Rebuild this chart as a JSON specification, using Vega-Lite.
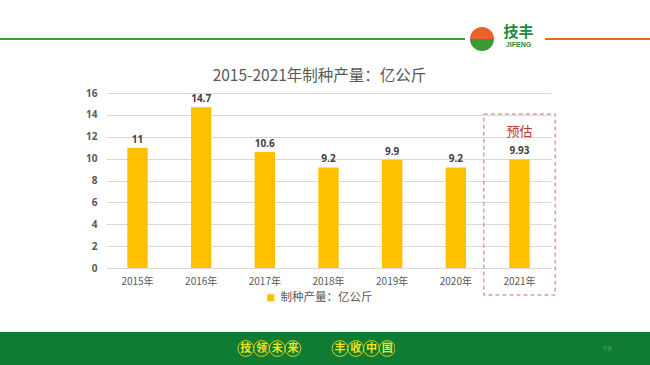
{
  "$schema": "https://vega.github.io/schema/vega-lite/v6.json",
  "padding": 0,
  "background": "white",
  "spacing": 0,
  "bounds": "flush",
  "resolve": {"scale": {"color": "independent"}, "legend": {"color": "independent"}},
  "config": {
    "view": {"stroke": null},
    "font": "Noto Sans CJK SC",
    "axisY": {
      "tickCount": 8,
      "labelOverlap": false,
      "grid": true,
      "gridColor": "#D9D9D9",
      "domain": false,
      "ticks": false,
      "labelPadding": 9,
      "labelFontSize": 10,
      "labelFont": "Open Sans",
      "labelFontWeight": "bold",
      "labelColor": "#595959"
    }
  },
  "vconcat": [
    {"width": 650, "height": 38, "data": {"values": []}, "mark": "point"},
    {
      "spacing": 0,
      "bounds": "flush",
      "hconcat": [
        {"width": 465, "height": 2, "view": {"fill": "#3A9B32"}, "data": {"values": []}, "mark": "point"},
        {
          "width": 34, "height": 2,
          "data": {"values": [{"part": "top", "v": 1}, {"part": "bottom", "v": 1}]},
          "mark": {"type": "arc", "outerRadius": 12},
          "encoding": {
            "theta": {"field": "v", "type": "quantitative", "stack": true, "scale": {"range": [-1.5708, 4.7124]}},
            "order": {"field": "part", "sort": "descending"},
            "color": {"field": "part", "type": "nominal", "scale": {"domain": ["top", "bottom"], "range": ["#E8622A", "#3A9A35"]}, "legend": null}
          }
        },
        {
          "width": 39, "height": 2,
          "data": {"values": [{"brand": "技丰", "en": "JIFENG"}]},
          "layer": [
            {"mark": {"type": "text", "dy": -7, "fontSize": 15, "fontWeight": "bold", "color": "#1E8C3C", "font": "Noto Sans CJK SC"}, "encoding": {"text": {"field": "brand"}}},
            {"mark": {"type": "text", "dy": 6, "fontSize": 7, "fontWeight": "bold", "color": "#1E8C3C", "font": "Liberation Sans"}, "encoding": {"text": {"field": "en"}}}
          ]
        },
        {"width": 7, "height": 2, "data": {"values": []}, "mark": "point"},
        {"width": 105, "height": 2, "view": {"fill": "#E0692B"}, "data": {"values": []}, "mark": "point"}
      ]
    },
    {"width": 650, "height": 55, "data": {"values": []}, "mark": "point"},
    {
      "spacing": 0,
      "bounds": "flush",
      "resolve": {"scale": {"color": "independent"}, "legend": {"color": "independent"}},
      "hconcat": [
        {"width": 106, "height": 175, "data": {"values": []}, "mark": "point"},
        {
          "width": 445,
          "height": 175,
          "data": {"values": [
            {"year": "2015年", "value": 11, "status": "实际"},
            {"year": "2016年", "value": 14.7, "status": "实际"},
            {"year": "2017年", "value": 10.6, "status": "实际"},
            {"year": "2018年", "value": 9.2, "status": "实际"},
            {"year": "2019年", "value": 9.9, "status": "实际"},
            {"year": "2020年", "value": 9.2, "status": "实际"},
            {"year": "2021年", "value": 9.93, "status": "预估"}
          ]},
          "title": {
            "text": "2015-2021年制种产量：亿公斤",
            "fontSize": 15.5,
            "fontWeight": "normal",
            "color": "#595959",
            "font": "Noto Sans CJK SC",
            "frame": "group",
            "anchor": "middle",
            "offset": 4,
            "dx": -9
          },
          "encoding": {
            "x": {
              "field": "year",
              "type": "ordinal",
              "sort": null,
              "scale": {"paddingInner": 0.68, "paddingOuter": 0.335},
              "axis": {
                "title": null,
                "labelAngle": 0,
                "ticks": false,
                "domain": false,
                "labelFontSize": 10,
                "labelColor": "#595959",
                "labelPadding": 8,
                "labelFont": "Noto Sans CJK SC"
              }
            },
            "y": {
              "field": "value",
              "type": "quantitative",
              "scale": {"domain": [0, 16], "nice": false},
              "axis": {"title": null}
            }
          },
          "layer": [
            {
              "mark": {"type": "bar", "color": "#FFC000"},
              "encoding": {
                "color": {
                  "datum": "制种产量：亿公斤",
                  "scale": {"range": ["#FFC000"]},
                  "legend": {
                    "title": null,
                    "orient": "none",
                    "legendX": 159,
                    "legendY": 199,
                    "symbolType": "square",
                    "symbolSize": 50,
                    "labelFontSize": 11.5,
                    "labelColor": "#595959",
                    "labelFont": "Noto Sans CJK SC"
                  }
                }
              }
            },
            {
              "mark": {"type": "text", "baseline": "bottom", "dy": -3, "fontWeight": "bold", "fontSize": 10, "color": "#404040", "font": "Open Sans"},
              "encoding": {
                "text": {"field": "value", "type": "quantitative"}
              }
            },
            {
              "transform": [{"filter": "datum.status === '预估'"}],
              "mark": {"type": "bar", "filled": false, "color": "#CF6F73", "strokeDash": [4, 3], "strokeWidth": 1, "width": {"band": 3.5}, "clip": false},
              "encoding": {
                "y": {"datum": 14.08, "axis": {"title": null}},
                "y2": {"datum": -2.47}
              }
            },
            {
              "transform": [{"filter": "datum.status === '预估'"}],
              "mark": {"type": "text", "fontSize": 13, "color": "#C0392B", "font": "Noto Sans CJK SC", "baseline": "middle"},
              "encoding": {
                "y": {"datum": 12.46, "axis": {"title": null}},
                "text": {"field": "status"}
              }
            }
          ]
        },
        {"width": 99, "height": 175, "data": {"values": []}, "mark": "point"}
      ]
    },
    {"width": 650, "height": 239, "data": {"values": []}, "mark": "point"},
    {
      "spacing": 0,
      "bounds": "flush",
      "hconcat": [
        {"width": 238, "height": 33, "view": {"fill": "#0E7C33"}, "data": {"values": []}, "mark": "point"},
        {
          "width": 157,
          "height": 33,
          "view": {"fill": "#0E7C33"},
          "data": {"values": [
            {"ch": "技"}, {"ch": "领"}, {"ch": "未"}, {"ch": "来"},
            {"ch": "丰"}, {"ch": "收"}, {"ch": "中"}, {"ch": "国"}
          ]},
          "encoding": {
            "x": {"field": "ch", "type": "nominal", "axis": null, "scale": {"type": "point", "domain": ["技", "领", "未", "来", "_a", "_b", "丰", "收", "中", "国"], "padding": 0.5}}
          },
          "layer": [
            {"mark": {"type": "point", "shape": "circle", "size": 250, "filled": false, "color": "#D4D22A", "strokeWidth": 1, "opacity": 1}},
            {"mark": {"type": "text", "fontSize": 11, "fontWeight": "bold", "color": "#F2E51B", "font": "Noto Sans CJK SC"}, "encoding": {"text": {"field": "ch"}}}
          ]
        },
        {"width": 169, "height": 33, "view": {"fill": "#0E7C33"}, "data": {"values": []}, "mark": "point"},
        {
          "width": 86,
          "height": 33,
          "view": {"fill": "#0E7C33"},
          "data": {"values": [{"page": "19"}]},
          "mark": {"type": "text", "fontSize": 8, "color": "#6FA57E", "font": "Open Sans"},
          "encoding": {"text": {"field": "page"}}
        }
      ]
    }
  ]
}
